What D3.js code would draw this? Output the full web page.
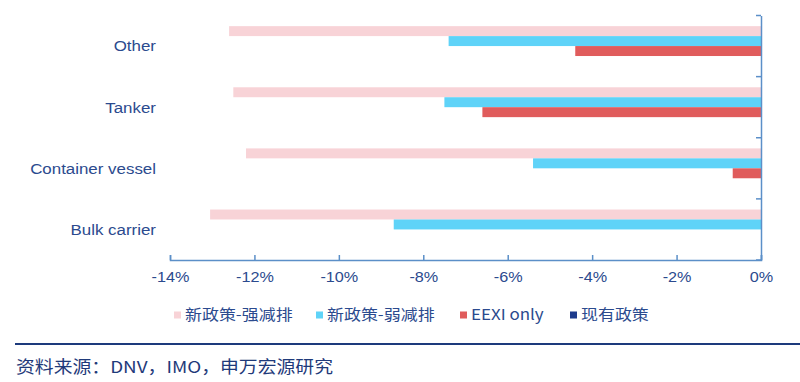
<!DOCTYPE html>
<html><head><meta charset="utf-8">
<script src="https://cdn.jsdelivr.net/npm/d3@7"></script>
<style>
body{margin:0;background:#fff;}
text{font-family:"Liberation Sans",Arial,"Noto Sans CJK SC",sans-serif;}
</style></head>
<body><svg id="c" width="800" height="382"></svg>
<script>
const categories = ["Other","Tanker","Container vessel","Bulk carrier"];
const seriesNames = ["新政策-强减排","新政策-弱减排","EEXI only","现有政策"];
const strongCut = [-12.6,-12.5,-12.2,-13.05];
const weakCut = [-7.4,-7.5,-5.4,-8.7];
const eexiOnly = [-4.4,-6.6,-0.67,0];
const currentPolicy = [0,0,0,0];
const xTicks = [-14,-12,-10,-8,-6,-4,-2,0];
const colors = ["#f8d3d7","#5fd3f8","#e05c5c","#1d3b8c"];
const seriesValues = [strongCut,weakCut,eexiOnly,currentPolicy];

const svg = d3.select("#c");
const m = {l:170,r:39,t:15.5,b:122};
const W=800,H=382;
const x = d3.scaleLinear().domain([-14,0]).range([m.l, W-m.r]);
const y = d3.scaleBand().domain(categories).range([m.t, H-m.b]).paddingInner(0).paddingOuter(0);
const inner = d3.scaleBand().domain(d3.range(4)).range([0,y.bandwidth()]).paddingOuter(1.07).paddingInner(0);
const axisColor="#5b8fc8", textColor="#2b4a8e";

function stretch(sel, f){
  sel.each(function(){
    const L=this.getComputedTextLength();
    d3.select(this).attr("textLength",L*f).attr("lengthAdjust","spacingAndGlyphs");
  });
}

const g = svg.append("g");
seriesValues.forEach((vals,si)=>{
  g.selectAll(null).data(categories).enter().append("rect")
    .attr("x",(d,i)=>x(Math.min(0,vals[i])))
    .attr("width",(d,i)=>Math.abs(x(vals[i])-x(0)))
    .attr("y",d=>y(d)+inner(si))
    .attr("height",inner.bandwidth())
    .attr("fill",colors[si]);
});

// x axis
const xa = svg.append("g").attr("transform",`translate(0,${H-m.b})`)
  .call(d3.axisBottom(x).tickValues(xTicks).tickSize(-5).tickSizeOuter(-5).tickPadding(8).tickFormat(d=>d+"%"));
xa.select(".domain").attr("stroke",axisColor).attr("stroke-width",1.5);
xa.selectAll(".tick line").attr("stroke",axisColor).attr("stroke-width",1.5);
xa.selectAll("text").attr("fill",textColor).attr("font-size",15).attr("dy","0.9em").call(stretch,1.08);

// y axis at 0
const ya = svg.append("g").attr("transform",`translate(${x(0)},0)`)
  .call(d3.axisLeft(y).tickSize(0).tickFormat(""));
ya.select(".domain").attr("stroke",axisColor).attr("stroke-width",1.5);
const bTicks = d3.range(5).map(i=>m.t+i*y.step());
svg.selectAll(null).data(bTicks).enter().append("line")
  .attr("x1",x(0)-5).attr("x2",x(0)).attr("y1",d=>d).attr("y2",d=>d)
  .attr("stroke",axisColor).attr("stroke-width",1.5);

// category labels
svg.selectAll(null).data(categories).enter().append("text")
  .attr("x",156).attr("y",d=>y(d)+y.bandwidth()/2)
  .attr("dy","0.35em").attr("text-anchor","end")
  .attr("fill",textColor).attr("font-size",15.5).text(d=>d).call(stretch,1.09);

// legend
const legX=[174,316,460,570];
const lg = svg.append("g");
seriesNames.forEach((n,i)=>{
  lg.append("rect").attr("x",legX[i]).attr("y",311.5).attr("width",7).attr("height",7).attr("fill",colors[i]);
  const t = lg.append("text").attr("x",legX[i]+11).attr("y",315).attr("dy","0.35em")
    .attr("fill",textColor).attr("font-size",15)
    .style("font-family",'"Noto Sans CJK SC","Liberation Sans",sans-serif').text(n);
  stretch(t,1.13);
});

// footer
svg.append("line").attr("x1",15).attr("x2",800).attr("y1",344).attr("y2",344)
  .attr("stroke","#1d3a7c").attr("stroke-width",2);
const src = svg.append("text").attr("x",16).attr("y",367).attr("dy","0.35em")
  .attr("fill","#1f3a7a").attr("font-size",16.5)
  .style("font-family",'"Noto Sans CJK SC","Liberation Sans",sans-serif')
  .text("资料来源：DNV，IMO，申万宏源研究");
src.attr("textLength",317).attr("lengthAdjust","spacingAndGlyphs");
</script></body></html>
